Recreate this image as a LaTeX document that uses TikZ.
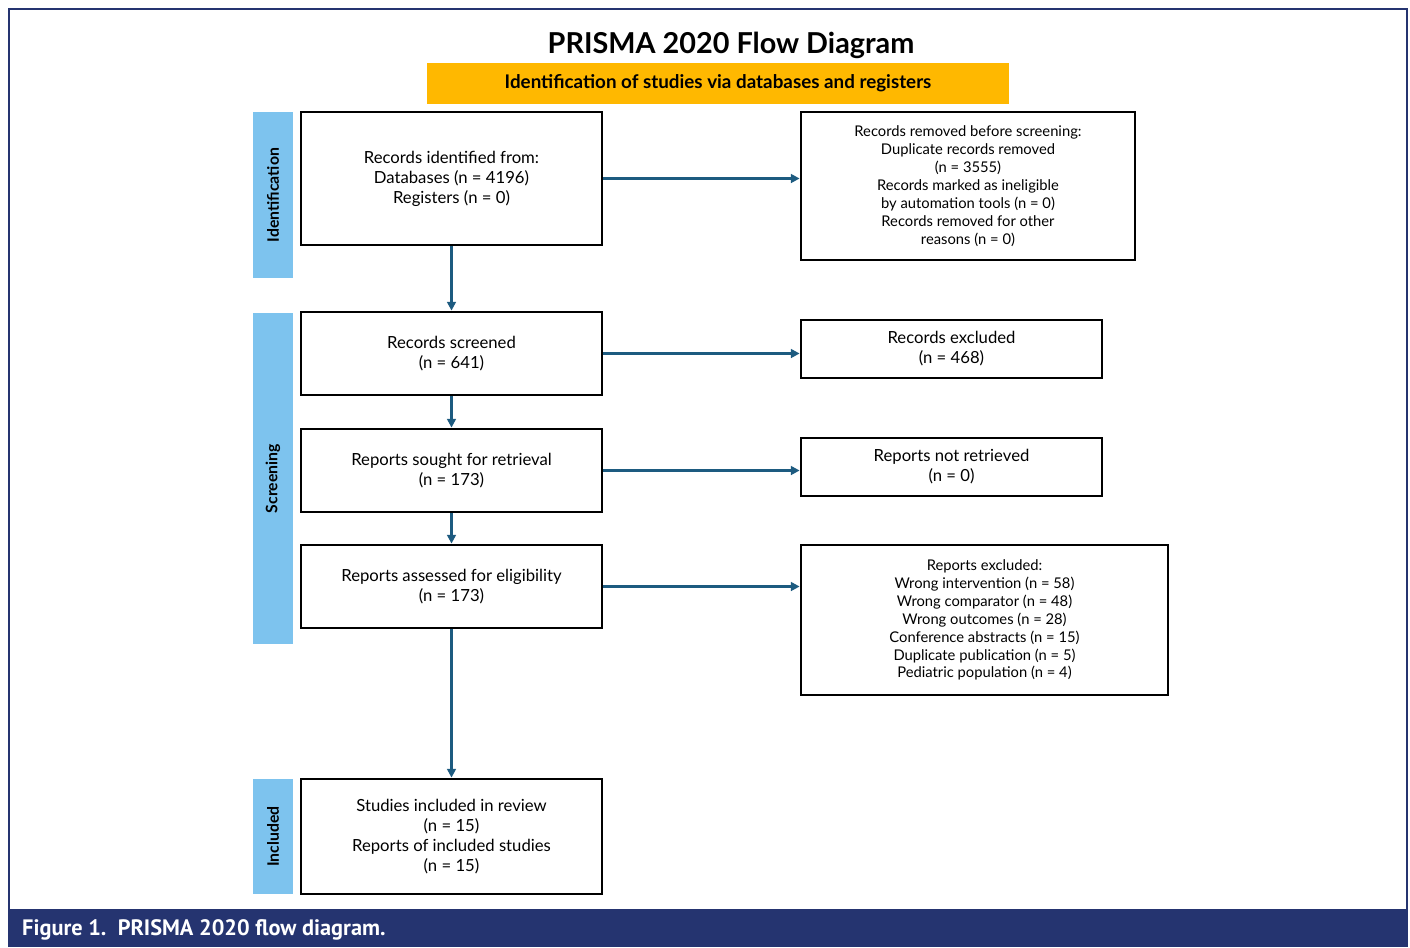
\documentclass[tikz,border=0pt]{standalone}
\usepackage{fontspec}
\setmainfont{Lato}
\newfontfamily\capfont{PT Sans}
\usetikzlibrary{arrows.meta}
\definecolor{barblue}{HTML}{7DC3EE}
\definecolor{bandgold}{HTML}{FFB800}
\definecolor{flowblue}{HTML}{1D5B80}
\definecolor{capnavy}{HTML}{253470}

\tikzset{
  stagebox/.style={draw=black, line width=1.6pt, align=center, inner sep=0pt,
    font=\fontsize{9.5}{11.4}\selectfont},
  sidebox/.style={draw=black, line width=1.6pt, align=center, inner sep=0pt,
    font=\fontsize{8.4}{10.2}\selectfont},
  phasebar/.style={fill=barblue, minimum width=0.8cm, inner sep=0pt,
    font=\bfseries\fontsize{9}{10}\selectfont},
  flow/.style={draw=flowblue, line width=1.3pt, -{Triangle[length=5pt,width=5pt]}}
}

\begin{document}
\begin{tikzpicture}[x=0.02cm, y=-0.02cm]
                %% frame and caption
                \useasboundingbox (0,0) rectangle (1410,947);
                \draw[capnavy, line width=0.6pt] (9,947) -- (9,9) -- (1407,9) -- (1407,947);
                \fill[capnavy] (9,909) rectangle (1407,947);
                \node[anchor=west, text=white, font=\capfont\bfseries\fontsize{12.7}{14}\selectfont] (caption) at (16,930) {Figure 1.\ \ PRISMA 2020 flow diagram.};

                %% heading
                \node[font=\bfseries\fontsize{16.4}{20}\selectfont] (title) at (731,45) {PRISMA 2020 Flow Diagram};
                \node[fill=bandgold, minimum width=11.64cm, minimum height=0.82cm, font=\bfseries\fontsize{10.7}{12}\selectfont] (band) at (718,83) {Identification of studies via databases and registers};

                %% phases
                \node[phasebar, minimum height=3.32cm] (ident) at (273,195) {\rotatebox{90}{Identification}};
                \node[phasebar, minimum height=6.62cm] (screen) at (273,478.5) {\rotatebox{90}{Screening}};
                \node[phasebar, minimum height=2.3cm] (incl) at (273,836.5) {\rotatebox{90}{Included}};

                %% main column
                \node[stagebox, minimum width=6.02cm, minimum height=2.66cm] (identified) at (451.5,178.5) {Records identified from:\\Databases (n = 4196)\\Registers (n = 0)};
                \node[stagebox, minimum width=6.02cm, minimum height=1.66cm] (screened) at (451.5,353.5) {Records screened\\(n = 641)};
                \node[stagebox, minimum width=6.02cm, minimum height=1.66cm] (sought) at (451.5,470.5) {Reports sought for retrieval\\(n = 173)};
                \node[stagebox, minimum width=6.02cm, minimum height=1.66cm] (assessed) at (451.5,586.5) {Reports assessed for eligibility\\(n = 173)};
                \node[stagebox, minimum width=6.02cm, minimum height=2.3cm] (included) at (451.5,836.5) {Studies included in review\\(n = 15)\\Reports of included studies\\(n = 15)};

                %% side column
                \node[sidebox, minimum width=6.68cm, minimum height=2.96cm] (removed) at (968,186) {Records removed before screening:\\Duplicate records removed\\(n = 3555)\\Records marked as ineligible\\by automation tools (n = 0)\\Records removed for other\\reasons (n = 0)};
                \node[stagebox, minimum width=6.02cm, minimum height=1.16cm] (excluded) at (951.5,349) {Records excluded\\(n = 468)};
                \node[stagebox, minimum width=6.02cm, minimum height=1.16cm] (notretr) at (951.5,467) {Reports not retrieved\\(n = 0)};
                \node[sidebox, minimum width=7.34cm, minimum height=3.0cm] (repexcl) at (984.5,620) {Reports excluded:\\Wrong intervention (n = 58)\\Wrong comparator (n = 48)\\Wrong outcomes (n = 28)\\Conference abstracts (n = 15)\\Duplicate publication (n = 5)\\Pediatric population (n = 4)};

                %% arrows
                \draw[flow] (identified) -- (screened);
                \draw[flow] (screened) -- (sought);
                \draw[flow] (sought) -- (assessed);
                \draw[flow] (assessed) -- (included);
                \draw[flow] (identified.east) -- (identified.east -| removed.west);
                \draw[flow] (screened.east) -- (screened.east -| excluded.west);
                \draw[flow] (sought.east) -- (sought.east -| notretr.west);
                \draw[flow] (assessed.east) -- (assessed.east -| repexcl.west);

            \end{tikzpicture}
\end{document}
